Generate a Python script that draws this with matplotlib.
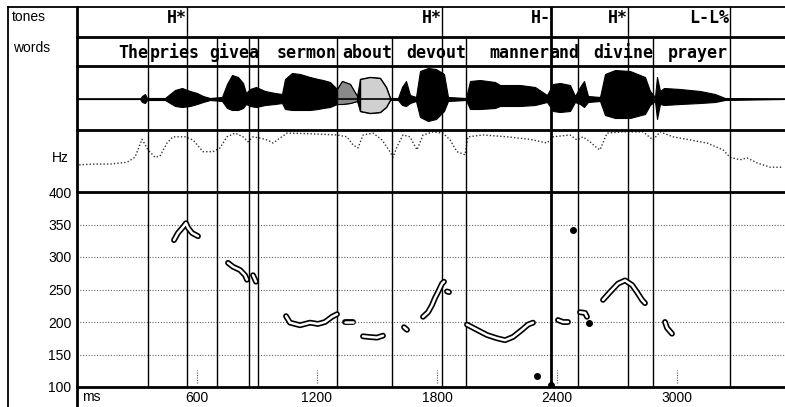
import matplotlib.pyplot as plt

W, H = 785, 407
XMAX = 3540  # ms at right edge

# ---- data ----
tone_labels = ["H*", "H*", "H-", "H*", "L-L%"]
tone_ms = [550, 1825, 2370, 2755, 3265]

word_labels = ["The", "pries", "give", "a", "sermon", "about", "devout",
               "manner", "and", "divine", "prayer"]
word_end_ms = [355, 615, 860, 905, 1300, 1575, 1945, 2362, 2512, 2880, 3255]

bounds_ms = [355, 550, 700, 860, 905, 1300, 1575, 1825, 1945, 2370,
             2505, 2755, 2880, 3265]
thick_bound = 2370

# waveform envelope (time ms, upper / lower amplitude)
wave_ms = [0, 315, 325, 340, 350, 440, 465, 490, 525, 565, 600, 630, 665,
           725, 750, 775, 805, 830, 845, 865, 895, 940, 990, 1025, 1040,
           1075, 1115, 1165, 1205, 1230, 1265, 1300, 1325, 1365, 1400, 1415,
           1465, 1515, 1545, 1565, 1605, 1625, 1645, 1665, 1695, 1715, 1755,
           1795, 1835, 1855, 1945, 1965, 2015, 2090, 2115, 2215, 2290, 2350,
           2380, 2415, 2465, 2490, 2515, 2535, 2555, 2615, 2640, 2690, 2765,
           2840, 2865, 2890, 2900, 2915, 2935, 3015, 3115, 3190, 3240, 3540]
wave_top = [0, 0, 3, 5, 1, 1, 5, 9, 11, 8, 6, 3, 1, 2, 15, 24, 22, 16, 6,
            10, 12, 8, 6, 5, 20, 26, 25, 22, 20, 19, 17, 10, 18, 15, 3, 20,
            22, 21, 12, 1, 1, 12, 18, 4, 2, 28, 31, 30, 25, 2, 1, 18, 19, 17,
            14, 14, 12, 4, 15, 16, 14, 3, 12, 18, 3, 2, 25, 29, 28, 22, 8, 2,
            22, 8, 11, 10, 8, 5, 1, 0]
wave_bot = [0, 0, 3, 4, 1, 1, 4, 7, 8, 7, 5, 3, 1, 2, 9, 11, 11, 9, 5, 7,
            8, 6, 5, 4, 10, 11, 11, 11, 10, 9, 8, 5, 5, 4, 2, 12, 14, 13, 8,
            1, 1, 6, 7, 4, 2, 18, 22, 20, 12, 2, 1, 10, 10, 9, 7, 7, 6, 3, 12,
            13, 12, 3, 5, 8, 3, 2, 16, 19, 19, 15, 6, 2, 20, 5, 6, 5, 4, 3, 1, 0]

# smoothed pitch trace in the "Hz" strip (0 = bottom, 1 = top)
hz_ms = [0, 15, 80, 165, 250, 290, 325, 355, 390, 415, 450, 480, 540, 580,
         630, 680, 715, 750, 790, 830, 855, 880, 915, 950, 980, 1015, 1050,
         1165, 1300, 1350, 1380, 1405, 1430, 1480, 1525, 1565, 1580, 1600,
         1630, 1665, 1700, 1730, 1780, 1830, 1865, 1900, 1940, 1955, 2030,
         2150, 2265, 2350, 2380, 2465, 2500, 2530, 2565, 2600, 2615, 2650,
         2730, 2830, 2880, 2915, 2980, 3065, 3150, 3230, 3265, 3315, 3350,
         3400, 3465, 3525]
hz_level = [0.39, 0.44, 0.45, 0.45, 0.48, 0.56, 0.85, 0.68, 0.56, 0.58, 0.79,
            0.89, 0.89, 0.84, 0.65, 0.65, 0.71, 0.89, 0.95, 0.89, 0.81, 0.89,
            0.87, 0.84, 0.79, 0.87, 0.95, 0.94, 0.92, 0.89, 0.76, 0.71, 0.92,
            0.95, 0.84, 0.65, 0.56, 0.73, 0.92, 0.89, 0.68, 0.92, 0.97, 0.95,
            0.84, 0.65, 0.60, 0.89, 0.92, 0.89, 0.85, 0.79, 0.89, 0.92, 0.84,
            0.89, 0.81, 0.71, 0.68, 0.95, 0.97, 0.97, 0.84, 0.97, 0.89, 0.84,
            0.79, 0.68, 0.56, 0.52, 0.55, 0.47, 0.40, 0.40]

# F0 contour pieces (ms, Hz)
f0_segments = [
    ([485, 505, 530, 545, 555, 575, 605], [326, 337, 346, 352, 345, 337, 332]),
    ([755, 780, 815, 840, 850], [291, 285, 280, 272, 265]),
    ([880, 895], [272, 262]),
    ([1045, 1065, 1115, 1165, 1205, 1240, 1275, 1300],
     [209, 199, 195, 199, 197, 200, 208, 212]),
    ([1340, 1380], [200, 200]),
    ([1430, 1460, 1500, 1530], [178, 177, 176, 179]),
    ([1635, 1650], [192, 188]),
    ([1730, 1755, 1775, 1790, 1805, 1825, 1835],
     [208, 215, 226, 237, 246, 259, 262]),
    ([1850, 1860], [247, 246]),
    ([1950, 2000, 2050, 2100, 2140, 2180, 2225, 2255, 2280],
     [196, 188, 180, 175, 172, 177, 188, 196, 199]),
    ([2405, 2430, 2455], [203, 200, 200]),
    ([2515, 2540, 2550], [215, 214, 208]),
    ([2630, 2665, 2705, 2740, 2775, 2800, 2825, 2840],
     [234, 246, 259, 264, 257, 246, 234, 229]),
    ([2940, 2950, 2975], [200, 191, 182]),
]
dot_ms = [2300, 2480, 2560, 2370]
dot_hz = [117, 342, 199, 103]

hz_ticks = [100, 150, 200, 250, 300, 350, 400]
ms_ticks = [600, 1200, 1800, 2400, 3000]


def rect(x0, y0, x1, y1):
    return [x0 / W, 1 - y1 / H, (x1 - x0) / W, (y1 - y0) / H]


def row(y0, y1):
    ax = fig.add_axes(rect(77, y0, W, y1))
    ax.set_xlim(0, XMAX)
    ax.axis("off")
    return ax


fig = plt.figure(figsize=(W / 100, H / 100), dpi=100)
mono = dict(family="DejaVu Sans Mono", weight="bold", fontsize=12)
sans = dict(family="Liberation Sans", fontsize=10)

# tones
ax_t = row(7, 37)
ax_t.set_ylim(0, 1)
for t in tone_ms:
    ax_t.axvline(t, color="k", lw=2 if t == thick_bound else 1)
for lab, t in zip(tone_labels, tone_ms):
    ax_t.text(t - 3, 0.62, lab, ha="right", va="center", **mono)

# words
ax_w = row(37, 66)
ax_w.set_ylim(0, 1)
for t in bounds_ms:
    ax_w.axvline(t, color="k", lw=2 if t == thick_bound else 1)
for lab, t in zip(word_labels, word_end_ms):
    ax_w.text(t, 0.45, lab, ha="right", va="center", **mono)

# waveform
ax_s = row(66, 130)
ax_s.set_ylim(-31, 33)
neg = [-v for v in wave_bot]
ax_s.fill_between(wave_ms, neg, wave_top, color="k", lw=0.8)
gray = [1300 <= t <= 1405 for t in wave_ms]
light = [1405 <= t <= 1565 for t in wave_ms]
ax_s.fill_between(wave_ms, neg, wave_top, where=gray, color="#8a8a8a",
                  edgecolor="k", lw=0.8)
ax_s.fill_between(wave_ms, neg, wave_top, where=light, color="#d0d0d0",
                  edgecolor="k", lw=1)
ax_s.axhline(0, color="k", lw=1.2)
for t in bounds_ms:
    ax_s.axvline(t, color="k", lw=2 if t == thick_bound else 1)

# pitch strip
ax_h = row(130, 192)
ax_h.set_ylim(0, 1)
ax_h.plot(hz_ms, hz_level, color="#333", lw=1.0, ls=(0, (1, 1.5)))
for t in bounds_ms:
    ax_h.axvline(t, color="k", lw=2 if t == thick_bound else 1)

# F0 plot
ax = fig.add_axes(rect(77, 192, W, 387))
ax.set_xlim(0, XMAX)
ax.set_ylim(100, 400)
for s in ax.spines.values():
    s.set_visible(False)
ax.set_yticks(hz_ticks)
ax.set_xticks(ms_ticks)
ax.tick_params(length=0, labelsize=10)
ax.tick_params(axis="y", pad=4)
ax.tick_params(axis="x", pad=3)
for lab in ax.get_xticklabels() + ax.get_yticklabels():
    lab.set_family("Liberation Sans")
ax.grid(axis="y", ls=(0, (1, 1.5)), color="#666", lw=0.8)
ax.vlines(ms_ticks, 106, 126, color="#555", lw=0.8, ls=(0, (1, 1.2)))
for t in bounds_ms:
    ax.axvline(t, color="k", lw=2 if t == thick_bound else 1)
for ts, fs in f0_segments:
    ax.plot(ts, fs, color="k", lw=4.2, solid_capstyle="round",
            solid_joinstyle="round", zorder=4)
    ax.plot(ts, fs, color="white", lw=1.8, solid_capstyle="round",
            solid_joinstyle="round", zorder=5)
ax.plot(dot_ms, dot_hz, "o", color="k", ms=4, zorder=6)

# frame lines and side labels
fr = fig.add_axes([0, 0, 1, 1])
fr.set_xlim(0, W)
fr.set_ylim(H, 0)
fr.axis("off")
fr.patch.set_visible(False)
fr.plot([8, 8], [7, H], color="k", lw=1.3)
fr.plot([8, W], [7, 7], color="k", lw=1.3)
fr.plot([77, 77], [7, H], color="k", lw=2)
for y in [37, 66, 130, 192, 387]:
    fr.plot([77, W], [y, y], color="k", lw=2)
fr.text(12, 17, "tones", ha="left", va="center", **sans)
fr.text(13, 48, "words", ha="left", va="center", **sans)
fr.text(69, 158, "Hz", ha="right", va="center", **sans)
fr.text(82, 397, "ms", ha="left", va="center", **sans)

fig.savefig("out.png", dpi=100)
